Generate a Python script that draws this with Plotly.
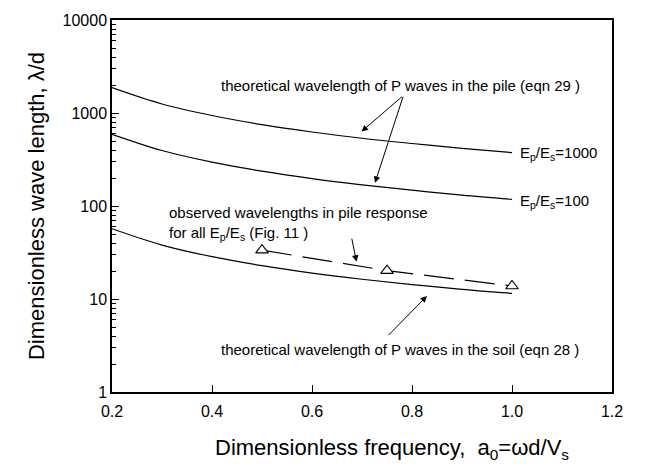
import numpy as np
import plotly.graph_objects as go

# ---- data ----
a0 = [0.2, 0.3, 0.4, 0.5, 0.6, 0.7, 0.8, 0.9, 1.0]
pile_1000 = [1875, 1250, 940, 750, 625, 535, 470, 417, 375]
pile_100 = [590, 395, 296, 237, 197, 169, 148, 131, 118]
soil = [57, 38, 28.5, 22.8, 19.0, 16.3, 14.3, 12.7, 11.5]
obs_a0 = [0.5, 0.75, 1.0]
obs_len = [33.5, 20.2, 13.8]

y_tickvals = [1, 10, 100, 1000, 10000]
y_ticktext = ["1", "10", "100", "1000", "10000"]
x_tickvals = [0.2, 0.4, 0.6, 0.8, 1.0, 1.2]
x_ticktext = ["0.2", "0.4", "0.6", "0.8", "1.0", "1.2"]

FONT = "Liberation Sans, Arial, sans-serif"
lw = 1.2

fig = go.Figure()
for ys in (pile_1000, pile_100, soil):
    fig.add_trace(go.Scatter(x=a0, y=ys, mode="lines",
                             line=dict(color="black", width=lw, shape="spline"),
                             hoverinfo="skip"))
fig.add_trace(go.Scatter(x=obs_a0, y=obs_len, mode="lines+markers",
                         line=dict(color="black", width=lw, dash="30px,11px"),
                         marker=dict(symbol="triangle-up", size=11, color="white",
                                     line=dict(color="black", width=1.1)),
                         hoverinfo="skip"))

L = np.log10
ann = []
def txt(x, y, t, xa="center", align="left"):
    ann.append(dict(x=x, y=L(y), text=t, showarrow=False, xanchor=xa, yanchor="middle",
                    align=align, font=dict(size=15, color="black", family=FONT)))
def arrow(x0, y0, x1, y1):
    ann.append(dict(x=x1, y=L(y1), ax=x0, ay=L(y0), axref="x", ayref="y", xref="x", yref="y",
                    text="", showarrow=True, arrowhead=2, arrowsize=1.3, arrowwidth=1,
                    arrowcolor="black", standoff=0, startstandoff=0))

txt(0.776, 10**3.296, "theoretical wavelength of P waves in the pile (eqn 29 )")
txt(1.012, 10**2.568, "E<sub>p</sub>/E<sub>s</sub>=1000", xa="left")
txt(1.012, 10**2.051, "E<sub>p</sub>/E<sub>s</sub>=100", xa="left")
txt(0.31, 10**1.813, "observed wavelengths in pile response<br>for all E<sub>p</sub>/E<sub>s</sub> (Fig. 11 )", xa="left")
txt(0.776, 10**0.455, "theoretical wavelength of P waves in the soil (eqn 28 )")

arrow(0.783, 10**3.19, 0.699, 10**2.80)
arrow(0.783, 10**3.19, 0.726, 10**2.249)
arrow(0.679, 10**1.665, 0.689, 10**1.401)
arrow(0.750, 10**0.595, 0.830, 10**1.033)

# x-axis title (placed as paper annotation to match the reference's position)
ann.append(dict(xref="paper", yref="paper", x=0.56, y=-0.152, xanchor="center", yanchor="middle",
                showarrow=False,
                text="Dimensionless frequency,  a<sub>0</sub>=ωd/V<sub>s</sub>",
                font=dict(size=22, color="black", family=FONT)))

fig.update_layout(
    width=649, height=476,
    margin=dict(l=112, r=37, t=14, b=84),
    plot_bgcolor="white", paper_bgcolor="white",
    showlegend=False,
    font=dict(family=FONT, color="black", size=16),
    annotations=ann,
)
fig.update_xaxes(range=[0.2, 1.2], tickvals=x_tickvals, ticktext=x_ticktext,
                 ticks="inside", ticklen=7, tickwidth=1, tickcolor="black",
                 showline=True, linecolor="black", linewidth=1.5, mirror=True,
                 showgrid=False, zeroline=False, ticklabelstandoff=4,
                 tickfont=dict(size=16))
fig.update_yaxes(type="log", range=[0, 4], tickvals=y_tickvals, ticktext=y_ticktext,
                 ticks="inside", ticklen=7, tickwidth=1, tickcolor="black",
                 minor=dict(ticks="inside", ticklen=4, tickwidth=1, tickcolor="black",
                            dtick="D1", showgrid=False),
                 showline=True, linecolor="black", linewidth=1.5, mirror=True,
                 showgrid=False, zeroline=False,
                 tickfont=dict(size=16),
                 title=dict(text="Dimensionless wave length, λ/d", font=dict(size=22), standoff=12))

fig.write_html("out.html")
